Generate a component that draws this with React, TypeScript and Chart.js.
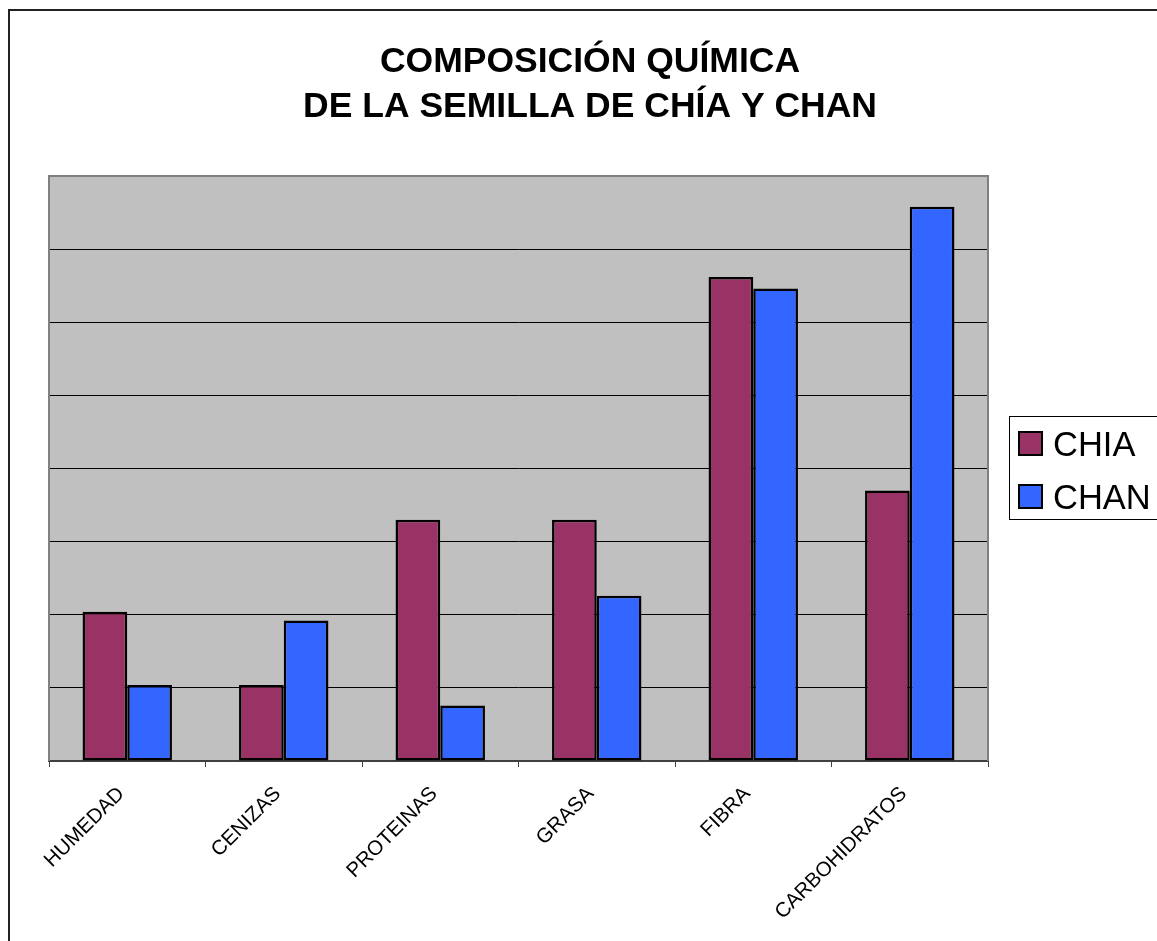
import React, { useEffect, useRef } from "react";
import { Chart, registerables } from "chart.js";

Chart.register(...registerables);

const titleLines = ["COMPOSICIÓN QUÍMICA", "DE LA SEMILLA DE CHÍA Y CHAN"];
const categories = ["HUMEDAD", "CENIZAS", "PROTEINAS", "GRASA", "FIBRA", "CARBOHIDRATOS"];
const seriesNames = ["CHIA", "CHAN"];
const chiaValues = [10.2, 5.2, 16.5, 16.5, 33.1, 18.5];
const chanValues = [5.2, 9.6, 3.8, 11.3, 32.3, 37.9];
const seriesColors = ["#993366", "#3366FF"];
const yMin = 0;
const yMax = 40;
const yStep = 5;

const FONT = '"Liberation Sans", Arial, sans-serif';

const decorPlugin = {
  id: "decor",
  beforeDraw(chart: any) {
    const { ctx, chartArea: a } = chart;
    ctx.save();
    ctx.fillStyle = "#ffffff";
    ctx.fillRect(0, 0, chart.width, chart.height);
    ctx.fillStyle = "#C0C0C0";
    ctx.fillRect(a.left, a.top, a.right - a.left, a.bottom - a.top);
    ctx.restore();
  },
  afterDatasetsDraw(chart: any) {
    const { ctx, chartArea: a } = chart;
    ctx.save();
    ctx.strokeStyle = "#808080";
    ctx.lineWidth = 2;
    ctx.beginPath();
    ctx.moveTo(a.left, a.bottom);
    ctx.lineTo(a.left, a.top);
    ctx.lineTo(a.right, a.top);
    ctx.lineTo(a.right, a.bottom);
    ctx.stroke();
    ctx.restore();
  },
  afterDraw(chart: any) {
    const { ctx, chartArea: a } = chart;
    ctx.save();
    // outer frame
    ctx.strokeStyle = "#222222";
    ctx.lineWidth = 2;
    ctx.beginPath();
    ctx.moveTo(9, chart.height + 5);
    ctx.lineTo(9, 10);
    ctx.lineTo(chart.width + 5, 10);
    ctx.stroke();

    // title
    ctx.fillStyle = "#000000";
    ctx.font = `bold 35.5px ${FONT}`;
    ctx.textAlign = "center";
    ctx.textBaseline = "alphabetic";
    const cx = 590;
    titleLines.forEach((t, i) => ctx.fillText(t, cx, 72 + i * 45));

    // legend
    const lx = a.right + 21;
    const ly = 416;
    ctx.strokeStyle = "#000000";
    ctx.lineWidth = 1;
    ctx.fillStyle = "#ffffff";
    ctx.fillRect(lx, ly, 200, 103);
    ctx.strokeRect(lx + 0.5, ly + 0.5, 200, 103);
    ctx.font = `34.5px ${FONT}`;
    ctx.textAlign = "left";
    chart.data.datasets.forEach((ds: any, i: number) => {
      const sy = ly + 16 + i * 53;
      ctx.fillStyle = ds.backgroundColor;
      ctx.fillRect(lx + 10, sy, 23, 23);
      ctx.lineWidth = 2;
      ctx.strokeStyle = "#000000";
      ctx.strokeRect(lx + 10, sy, 23, 23);
      ctx.fillStyle = "#000000";
      ctx.fillText(ds.label, lx + 44, sy + 24);
    });
    ctx.restore();
  },
};

export default function App() {
  const ref = useRef<HTMLCanvasElement>(null);
  useEffect(() => {
    if (!ref.current) return;
    const chart = new Chart(ref.current, {
      type: "bar",
      data: {
        labels: categories,
        datasets: [
          {
            label: seriesNames[0],
            data: chiaValues,
            backgroundColor: seriesColors[0],
            borderColor: "#000000",
            borderWidth: 2.5,
            borderSkipped: false,
            categoryPercentage: 2 / 3.5,
            barPercentage: 1,
          },
          {
            label: seriesNames[1],
            data: chanValues,
            backgroundColor: seriesColors[1],
            borderColor: "#000000",
            borderWidth: 2.5,
            borderSkipped: false,
            categoryPercentage: 2 / 3.5,
            barPercentage: 1,
          },
        ],
      },
      options: {
        animation: false,
        responsive: false,
        devicePixelRatio: 1,
        layout: { padding: { left: 49, top: 176, right: 169, bottom: 0 } },
        plugins: {
          legend: { display: false },
          title: { display: false },
          tooltip: { enabled: false },
        },
        scales: {
          x: {
            grid: {
              display: true,
              drawOnChartArea: false,
              drawTicks: true,
              tickLength: 6,
              color: "#404040",
              lineWidth: 1,
              offset: true,
            },
            border: { display: true, color: "#404040", width: 2 },
            ticks: {
              color: "#000000",
              font: { family: FONT, size: 20.5 },
              maxRotation: 45,
              minRotation: 45,
              padding: 15,
              labelOffset: -6,
              autoSkip: false,
            },
            afterFit(scale: any) {
              scale.height = 180;
              scale.paddingLeft = 0;
              scale.paddingRight = 0;
            },
          },
          y: {
            min: yMin,
            max: yMax,
            ticks: { display: false, stepSize: yStep },
            grid: { color: "#000000", lineWidth: 1, drawTicks: false },
            border: { display: false },
            afterFit(scale: any) {
              scale.width = 0;
              scale.paddingTop = 0;
              scale.paddingBottom = 0;
            },
          },
        },
      },
      plugins: [decorPlugin],
    });
    return () => chart.destroy();
  }, []);
  return (
    <canvas
      ref={ref}
      width={1157}
      height={941}
      style={{ position: "absolute", left: 0, top: 0, width: 1157, height: 941 }}
    />
  );
}
